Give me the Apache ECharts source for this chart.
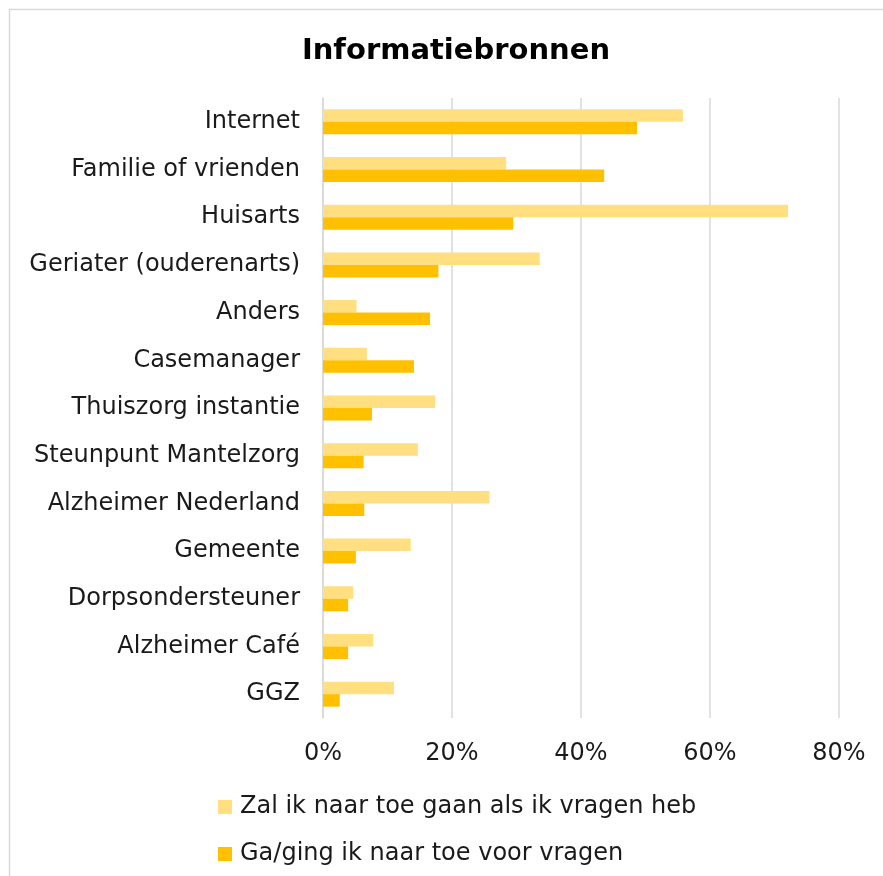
<!DOCTYPE html>
<html>
<head>
<meta charset="utf-8">
<script src="https://cdn.jsdelivr.net/npm/echarts@6/dist/echarts.min.js"></script>
<style>
    html, body { margin: 0; padding: 0; background: #ffffff; }
    #chart { width: 883px; height: 876px; }
</style>
</head>
<body>
<div id="chart"></div>
<script>
// categories (top to bottom)
const categories = [
    'Internet', 'Familie of vrienden', 'Huisarts', 'Geriater (ouderenarts)', 'Anders',
    'Casemanager', 'Thuiszorg instantie', 'Steunpunt Mantelzorg', 'Alzheimer Nederland',
    'Gemeente', 'Dorpsondersteuner', 'Alzheimer Café', 'GGZ'
]
// series names
const seriesNames = ['Zal ik naar toe gaan als ik vragen heb', 'Ga/ging ik naar toe voor vragen']
// values in percent
const zalGaan = [55.8, 28.4, 72.1, 33.6, 5.2, 6.8, 17.4, 14.7, 25.8, 13.6, 4.7, 7.8, 11.0]
const gingNaarToe = [48.7, 43.6, 29.5, 17.9, 16.6, 14.1, 7.6, 6.3, 6.4, 5.1, 3.9, 3.9, 2.6]
// x axis ticks
const xTicks = [0, 20, 40, 60, 80]

const font = '"DejaVu Sans", Verdana, sans-serif'
const colors = ['#FFDF80', '#FFC000']

const chart = echarts.init(document.getElementById('chart'))

const option = {
    backgroundColor: '#ffffff',
    animation: false,
    title: {
        text: 'Informatiebronnen',
        left: 451,
        top: 32,
        textAlign: 'center',
        textStyle: {
            fontFamily: font,
            fontSize: 29,
            fontWeight: 'bold',
            color: '#000000'
        }
    },
    // light frame round the chart
    graphic: [{
        type: 'rect',
        shape: { x: 9.5, y: 9.5, width: 900, height: 900 },
        style: { fill: 'none', stroke: '#d9d9d9', lineWidth: 1.5 },
        silent: true
    }],
    legend: {
        orient: 'vertical',
        left: 218,
        top: 795,
        padding: 0,
        itemGap: 23,
        itemWidth: 14,
        itemHeight: 14,
        icon: 'rect',
        textStyle: {
            fontFamily: font,
            fontSize: 24,
            color: '#1a1a1a',
            padding: [0, 0, 0, 3]
        },
        data: seriesNames
    },
    grid: {
        left: 323,
        right: 44,
        top: 98,
        bottom: 158,
        containLabel: false
    },
    xAxis: {
        type: 'value',
        min: xTicks[0],
        max: xTicks[xTicks.length - 1],
        interval: 20,
        axisLine: { show: false },
        axisTick: { show: false },
        splitLine: { lineStyle: { color: '#d9d9d9', width: 1.5 } },
        axisLabel: {
            margin: 24,
            fontFamily: font,
            fontSize: 24,
            color: '#1a1a1a',
            formatter: '{value}%'
        }
    },
    yAxis: {
        type: 'category',
        inverse: true,
        data: categories,
        axisLine: { show: true, lineStyle: { color: '#d9d9d9', width: 1.5 } },
        axisTick: { show: false },
        axisLabel: {
            margin: 23,
            padding: [5, 0, 0, 0],
            fontFamily: font,
            fontSize: 24,
            color: '#1a1a1a'
        }
    },
    series: [{
        name: seriesNames[0],
        type: 'bar',
        data: zalGaan,
        barWidth: 12.5,
        barGap: '0%',
        itemStyle: { color: colors[0] }
    }, {
        name: seriesNames[1],
        type: 'bar',
        data: gingNaarToe,
        barWidth: 12.5,
        barGap: '0%',
        itemStyle: { color: colors[1] }
    }]
}

chart.setOption(option)
</script>
</body>
</html>
